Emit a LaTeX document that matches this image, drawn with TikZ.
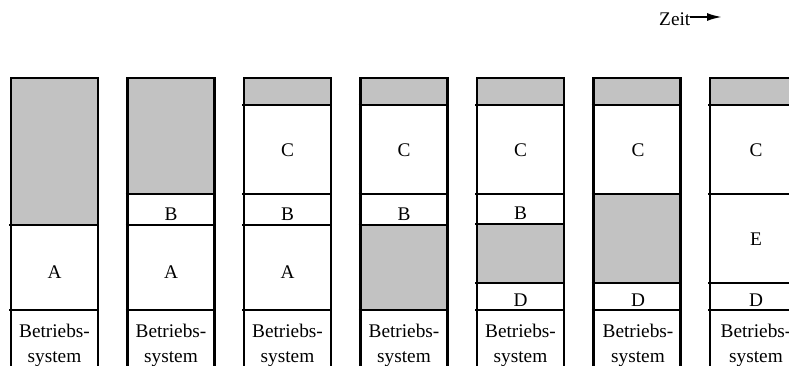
\documentclass[tikz,border=0pt]{standalone}
\usepackage{fontspec}
\setmainfont{Liberation Serif}
\usetikzlibrary{arrows.meta}
\definecolor{freegray}{RGB}{194,194,194}
\begin{document}
\begin{tikzpicture}[x=1pt,y=-1pt,
  wall/.style={line width=2.4pt},
  divider/.style={line width=2.2pt},
  hole/.style={fill=freegray},
  lbl/.style={anchor=base,inner sep=0pt,font=\fontsize{19.3}{25}\selectfont},
  oslbl/.style={anchor=base,inner sep=0pt,align=center,font=\fontsize{19.3}{25}\selectfont},
  timearrow/.style={line width=2pt,-{Latex[length=15pt,width=8pt]}}]
\useasboundingbox (0,0) rectangle (789,366);
\clip (0,0) rectangle (789,366);

% time axis label
\node[lbl,anchor=base west] (zeit) at (659,26) {Zeit};
\coordinate (zeitend) at (722,17);
\draw[timearrow] (zeit.east |- zeitend) -- (zeitend);

% memory snapshot 1
\begin{scope}[xshift=11pt]
  \fill[hole] (0,78) rectangle (87,225);
  \draw[divider] (-2,225) -- (87,225) (-2,310) -- (87,310);
  \node[lbl] (a1) at (43.5,278) {A};
  \node[oslbl] (os1) at (43.5,362) {Betriebs-\\system};
  \draw[wall] (0,366) -- (0,78) -- (87,78) -- (87,366);
\end{scope}

% memory snapshot 2
\begin{scope}[xshift=127.5pt]
  \fill[hole] (0,78) rectangle (87,194);
  \draw[divider] (-2,194) -- (87,194) (-2,225) -- (87,225) (-2,310) -- (87,310);
  \node[lbl] (b2) at (43.5,220) {B};
  \node[lbl] (a2) at (43.5,278) {A};
  \node[oslbl] (os2) at (43.5,362) {Betriebs-\\system};
  \draw[wall] (0,366) -- (0,78) -- (87,78) -- (87,366);
\end{scope}

% memory snapshot 3
\begin{scope}[xshift=244pt]
  \fill[hole] (0,78) rectangle (87,105);
  \draw[divider] (-2,105) -- (87,105) (-2,194) -- (87,194) (-2,225) -- (87,225) (-2,310) -- (87,310);
  \node[lbl] (c3) at (43.5,157) {C};
  \node[lbl] (b3) at (43.5,220) {B};
  \node[lbl] (a3) at (43.5,278) {A};
  \node[oslbl] (os3) at (43.5,362) {Betriebs-\\system};
  \draw[wall] (0,366) -- (0,78) -- (87,78) -- (87,366);
\end{scope}

% memory snapshot 4
\begin{scope}[xshift=360.5pt]
  \fill[hole] (0,78) rectangle (87,105);
  \fill[hole] (0,225) rectangle (87,310);
  \draw[divider] (-2,105) -- (87,105) (-2,194) -- (87,194) (-2,225) -- (87,225) (-2,310) -- (87,310);
  \node[lbl] (c4) at (43.5,157) {C};
  \node[lbl] (b4) at (43.5,220) {B};
  \node[oslbl] (os4) at (43.5,362) {Betriebs-\\system};
  \draw[wall] (0,366) -- (0,78) -- (87,78) -- (87,366);
\end{scope}

% memory snapshot 5
\begin{scope}[xshift=477pt]
  \fill[hole] (0,78) rectangle (87,105);
  \fill[hole] (0,224) rectangle (87,283);
  \draw[divider] (-2,105) -- (87,105) (-2,194) -- (87,194) (-2,224) -- (87,224) (-2,283) -- (87,283) (-2,310) -- (87,310);
  \node[lbl] (c5) at (43.5,157) {C};
  \node[lbl] (b5) at (43.5,219) {B};
  \node[lbl] (d5) at (43.5,306.5) {D};
  \node[oslbl] (os5) at (43.5,362) {Betriebs-\\system};
  \draw[wall] (0,366) -- (0,78) -- (87,78) -- (87,366);
\end{scope}

% memory snapshot 6
\begin{scope}[xshift=593.5pt]
  \fill[hole] (0,78) rectangle (87,105);
  \fill[hole] (0,194) rectangle (87,283);
  \draw[divider] (-2,105) -- (87,105) (-2,194) -- (87,194) (-2,283) -- (87,283) (-2,310) -- (87,310);
  \node[lbl] (c6) at (44.5,157) {C};
  \node[lbl] (d6) at (44.5,306.5) {D};
  \node[oslbl] (os6) at (44.5,362) {Betriebs-\\system};
  \draw[wall] (0,366) -- (0,78) -- (87,78) -- (87,366);
\end{scope}

% memory snapshot 7 (runs past the right edge)
\begin{scope}[xshift=710pt]
  \fill[hole] (0,78) rectangle (90,105);
  \draw[divider] (-2,105) -- (90,105) (-2,194) -- (90,194) (-2,283) -- (90,283) (-2,310) -- (90,310);
  \node[lbl] (c7) at (46,157) {C};
  \node[lbl] (e7) at (46,245) {E};
  \node[lbl] (d7) at (46,306.5) {D};
  \node[oslbl] (os7) at (46,362) {Betriebs-\\system};
  \draw[wall] (0,366) -- (0,78) -- (90,78) -- (90,366);
\end{scope}
\end{tikzpicture}
\end{document}
